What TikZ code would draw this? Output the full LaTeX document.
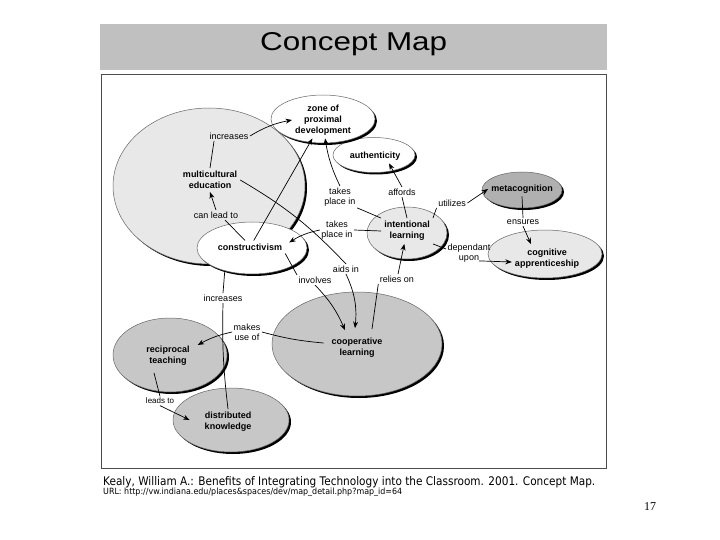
\documentclass[tikz,border=0pt]{standalone}
\usepackage{graphicx}
\usepackage{fontspec}
\setmainfont{Liberation Sans}
\newfontfamily\footfont{DejaVu Sans}
\newfontfamily\numfont{Liberation Serif}
\usetikzlibrary{shapes.geometric,shadows,arrows.meta,calc}
\definecolor{titlegray}{gray}{0.753}
\definecolor{lightfill}{gray}{0.91}
\definecolor{midfill}{gray}{0.78}
\definecolor{darkfill}{gray}{0.69}
\tikzset{
  blob/.style={ellipse, draw=black!60, line width=0.5pt, inner sep=0pt,
     drop shadow={shadow xshift=2pt, shadow yshift=-2pt, opacity=1, fill=black}},
  concept/.style={font=\fontsize{9}{11}\selectfont\bfseries, align=center, inner sep=3pt},
  lbl/.style={font=\fontsize{9}{10}\selectfont, align=center, inner sep=1.5pt},
  link/.style={draw=black, line width=0.7pt},
  arr/.style={link, -{Stealth[length=6.5pt,width=5pt]}},
}
\begin{document}
\begin{tikzpicture}[x=1pt,y=-1pt]
\useasboundingbox (0,0) rectangle (720,540);
\fill[white] (0,0) rectangle (720,540);
% title band
\fill[titlegray] (100,24) rectangle (607,70);
\node[anchor=base west, inner sep=0] (title) at (260,51) {\resizebox{187pt}{18pt}{Concept Map}};
% frame
\draw[black!70, line width=1pt] (101,75) rectangle (606,468);
% ellipses
\node[blob, fill=lightfill, minimum width=192pt, minimum height=156pt] (e-mc) at (209,186) {};
\node[blob, fill=white, minimum width=82pt, minimum height=35pt] (e-auth) at (374,155) {};
\node[blob, fill=white, minimum width=104pt, minimum height=48pt] (e-zone) at (323,119) {};
\node[blob, fill=darkfill, minimum width=80pt, minimum height=36pt] (e-meta) at (522,190) {};
\node[blob, fill=lightfill, minimum width=80pt, minimum height=52pt] (e-int) at (407,233) {};
\node[blob, fill=lightfill, minimum width=114pt, minimum height=48pt] (e-cog) at (545,254) {};
\node[blob, fill=white, minimum width=110pt, minimum height=52pt] (e-cons) at (252,248) {};
\node[blob, fill=midfill, minimum width=170pt, minimum height=104pt] (e-coop) at (357,344) {};
\node[blob, fill=midfill, minimum width=114pt, minimum height=74pt] (e-rec) at (170,355) {};
\node[blob, fill=midfill, minimum width=116pt, minimum height=64pt] (e-dist) at (231,420) {};
% concept texts
\node[concept] (mc) at (210,180) {multicultural\\education};
\node[concept] (zone) at (323,120) {zone of\\proximal\\development};
\node[concept] (auth) at (375,156) {authenticity};
\node[concept] (meta) at (522,189) {metacognition};
\node[concept] (int) at (407,231) {intentional\\learning};
\node[concept] (cog) at (547,259) {cognitive\\apprenticeship};
\node[concept] (cons) at (250,247) {constructivism};
\node[concept] (coop) at (357,348) {cooperative\\learning};
\node[concept] (rec) at (168,356) {reciprocal\\teaching};
\node[concept] (dist) at (228,422) {distributed\\knowledge};
% link labels
\node[lbl] (l1) at (229,136) {increases};
\node[lbl] (l2) at (216,215) {can lead to};
\node[lbl] (l3) at (340,197) {takes\\place in};
\node[lbl] (l4) at (337,230) {takes\\place in};
\node[lbl] (l5) at (402,192) {affords};
\node[lbl] (l6) at (452,203) {utilizes};
\node[lbl] (l7) at (523,222) {ensures};
\node[lbl] (l8) at (469,253) {dependant\\upon};
\node[lbl] (l9) at (346,269) {aids in};
\node[lbl] (l10) at (315,280) {involves};
\node[lbl] (l11) at (397,279) {relies on};
\node[lbl] (l12) at (223,298) {increases};
\node[lbl] (l13) at (247,332) {makes\\use of};
\node[lbl, font=\fontsize{8}{9}\selectfont] (l14) at (160,401) {leads to};
% connectors
\draw[link] (mc.north) -- ($(l1.south west)+(6,0)$);
\draw[arr] (l1.east) to[bend left=10] (zone.west);
\draw[link] ($(cons.north)+(-5,0)$) -- ($(l2.south)+(9,0)$);
\draw[arr] (l2.north) -- (mc.south);
\draw[arr] (cons) -- (zone);
\draw[link] (mc.east) to[bend left=8] (l9.north);
\draw[arr] (l9.south) to[bend left=15] ($(coop.north)+(-2,-7)$);
\draw[link] (cons.south east) -- (l10.north west);
\draw[arr] (l10.south) to[bend left=10] ($(coop.north)+(-12,-5)$);
\draw[link] ($(coop.north)+(15,-6)$) -- (l11.south west);
\draw[arr] (l11) -- (int);
\draw[link] (int.north west) -- (l3.south east);
\draw[arr] (l3.north) to[bend left=8] (zone);
\draw[link] (int.west) -- (l4.east);
\draw[arr] (l4.west) to[bend right=10] ($(cons.north east)+(4,2)$);
\draw[link] (int.north) -- (l5.south);
\draw[arr] (l5.north) -- ($(auth.south)+(14,0)$);
\draw[link] (int.north east) -- (l6.south west);
\draw[arr] (l6.east) -- (meta.west);
\draw[link] (meta.south) -- (l7.north);
\draw[arr] (l7.south) -- ($(cog.north)+(-16,-2)$);
\draw[link] (int.south east) -- ($(l8.west)+(0,-4)$);
\draw[arr] ($(l8.south)+(10,-3)$) -- ($(cog.west)+(0,3)$);
\draw[link] ($(coop.west)+(-5,-5)$) to[bend left=5] (l13.east);
\draw[arr] (l13.west) to[bend right=8] ($(rec.east)+(5,-11)$);
\draw[link] (e-cons.220) -- (l12.north);
\draw[link] (l12.south) to[bend right=4] (dist.north);
\draw[link] ($(rec.south)+(-14,4)$) -- (l14.north);
\draw[arr] (l14.south) -- ($(dist.west)+(-12,-2)$);
% footer
\node[anchor=base west, inner sep=0] (cite) at (103,485) {\resizebox{492pt}{9pt}{\footfont Kealy, William A.: Benefits of Integrating Technology into the Classroom. 2001. Concept Map.}};
\node[anchor=base west, inner sep=0] (url) at (103,494) {\resizebox{299pt}{6.5pt}{\footfont URL: http://vw.indiana.edu/places\&spaces/dev/map\_detail.php?map\_id=64}};
\node[font=\numfont\fontsize{12}{12}\selectfont, inner sep=0] (pg) at (650,507) {17};
\end{tikzpicture}
\end{document}
